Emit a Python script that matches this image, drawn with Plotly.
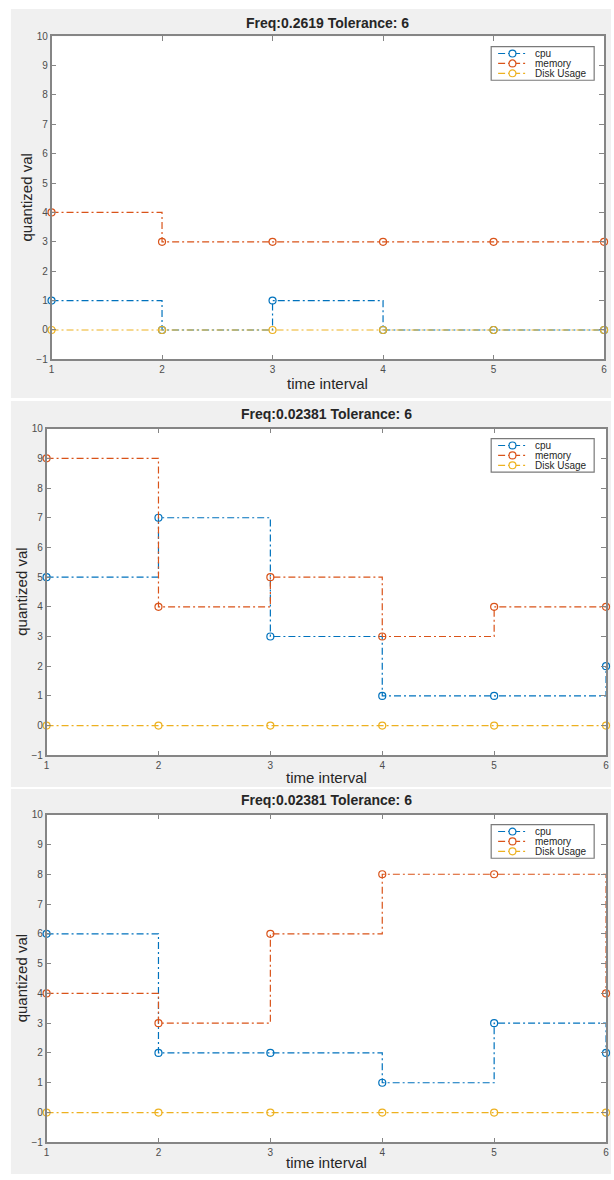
import plotly.graph_objects as go

# ---- data -------------------------------------------------------------
time_interval = [1, 2, 3, 4, 5, 6]

titles = ["Freq:0.2619 Tolerance: 6",
          "Freq:0.02381 Tolerance: 6",
          "Freq:0.02381 Tolerance: 6"]

cpu_1 = [1, 0, 1, 0, 0, 0]
memory_1 = [4, 3, 3, 3, 3, 3]
disk_1 = [0, 0, 0, 0, 0, 0]

cpu_2 = [5, 7, 3, 1, 1, 2]
memory_2 = [9, 4, 5, 3, 4, 4]
disk_2 = [0, 0, 0, 0, 0, 0]

cpu_3 = [6, 2, 2, 1, 3, 2]
memory_3 = [4, 3, 6, 8, 8, 4]
disk_3 = [0, 0, 0, 0, 0, 0]

series_names = ["cpu", "memory", "Disk Usage"]
y_ticks = [-1, 0, 1, 2, 3, 4, 5, 6, 7, 8, 9, 10]

# ---- styling ----------------------------------------------------------
W, H = 614, 1180
COLORS = ["#0072BD", "#D95319", "#EDB120"]
DASH = "7px,3px,2px,3px"
PANEL_BG = "#f0f0f0"
AXIS_COLOR = "#858585"
TEXT_COLOR = "#262626"
TICK_COLOR = "#4d4d4d"
FONT = "Liberation Sans, Arial, sans-serif"


def px(x):
    return x / W


def py(y):
    return 1 - y / H


# pixel layout of each panel: gray panel box, axes box, label positions
panels = [
    dict(bg=(8, 3, 614, 396), ax=(49, 30.5, 607, 357),
         title_y=17, xlabel_y=381, ylabel_x=24, legend_top=41),
    dict(bg=(8, 399, 614, 789), ax=(44, 427, 609, 757),
         title_y=412, xlabel_y=779, ylabel_x=19, legend_top=437),
    dict(bg=(8, 791, 614, 1180), ax=(44, 817, 609, 1148),
         title_y=802, xlabel_y=1168, ylabel_x=19, legend_top=827),
]

panel_data = [
    (cpu_1, memory_1, disk_1),
    (cpu_2, memory_2, disk_2),
    (cpu_3, memory_3, disk_3),
]

fig = go.Figure()
shapes = []
annotations = []
layout_axes = {}

for i, (p, data) in enumerate(zip(panels, panel_data)):
    n = i + 1
    xname = "x" if n == 1 else f"x{n}"
    yname = "y" if n == 1 else f"y{n}"
    xkey = "xaxis" if n == 1 else f"xaxis{n}"
    ykey = "yaxis" if n == 1 else f"yaxis{n}"

    x0, y0, x1, y1 = p["ax"]
    bx0, by0, bx1, by1 = p["bg"]

    # gray figure background, then white axes area
    shapes.append(dict(type="rect", xref="paper", yref="paper",
                       x0=px(bx0), x1=px(bx1), y0=py(by1), y1=py(by0),
                       fillcolor=PANEL_BG, line=dict(width=0), layer="below"))
    shapes.append(dict(type="rect", xref="paper", yref="paper",
                       x0=px(x0), x1=px(x1), y0=py(y1), y1=py(y0),
                       fillcolor="white", line=dict(width=0), layer="below"))

    # stair-step series
    for name, vals, color in zip(series_names, data, COLORS):
        fig.add_trace(go.Scatter(
            x=time_interval, y=vals, name=name, xaxis=xname, yaxis=yname,
            mode="lines+markers", line=dict(shape="hv", color=color,
                                             width=1.2, dash=DASH),
            marker=dict(symbol="circle-open", size=7, color=color,
                        line=dict(width=1.2, color=color)),
            cliponaxis=False, showlegend=False))

    common = dict(showline=True, linecolor=AXIS_COLOR, linewidth=1.5,
                  mirror="ticks", ticks="inside", ticklen=5, tickwidth=1,
                  tickcolor=AXIS_COLOR, showgrid=False, zeroline=False,
                  tickfont=dict(family=FONT, size=10, color=TICK_COLOR))
    layout_axes[xkey] = dict(common, domain=[px(x0), px(x1)],
                             range=[1, 6], tickvals=time_interval,
                             anchor=yname)
    layout_axes[ykey] = dict(common, domain=[py(y1), py(y0)],
                             range=[-1, 10], tickvals=y_ticks,
                             anchor=xname)

    cx = (x0 + x1) / 2
    annotations.append(dict(text=f"<b>{titles[i]}</b>", xref="paper",
                            yref="paper", x=px(cx), y=py(p["title_y"]),
                            showarrow=False, xanchor="center",
                            yanchor="middle",
                            font=dict(family=FONT, size=14,
                                      color=TEXT_COLOR)))
    annotations.append(dict(text="time interval", xref="paper",
                            yref="paper", x=px(cx), y=py(p["xlabel_y"]),
                            showarrow=False, xanchor="center",
                            yanchor="middle",
                            font=dict(family=FONT, size=15,
                                      color=TEXT_COLOR)))
    annotations.append(dict(text="quantized val", xref="paper",
                            yref="paper", x=px(p["ylabel_x"]),
                            y=py((y0 + y1) / 2), textangle=-90,
                            showarrow=False, xanchor="center",
                            yanchor="middle",
                            font=dict(family=FONT, size=15,
                                      color=TEXT_COLOR)))

    # legend box in the upper-right corner of the axes
    lt = p["legend_top"]
    lx0, lx1 = 493, 597
    shapes.append(dict(type="rect", xref="paper", yref="paper",
                       x0=px(lx0), x1=px(lx1), y0=py(lt + 34), y1=py(lt),
                       fillcolor="white",
                       line=dict(color="#7a7a7a", width=1.2)))
    for k, (name, color) in enumerate(zip(series_names, COLORS)):
        ey = lt + 7 + k * 10
        shapes.append(dict(type="line", xref="paper", yref="paper",
                           x0=px(500), x1=px(529), y0=py(ey), y1=py(ey),
                           line=dict(color=color, width=1.2, dash=DASH)))
        shapes.append(dict(type="circle", xref="paper", yref="paper",
                           x0=px(511), x1=px(518), y0=py(ey + 3.5),
                           y1=py(ey - 3.5), fillcolor="white",
                           line=dict(color=color, width=1.2)))
        annotations.append(dict(text=name, xref="paper", yref="paper",
                                x=px(535), y=py(ey), showarrow=False,
                                xanchor="left", yanchor="middle",
                                font=dict(family=FONT, size=10,
                                          color=TEXT_COLOR)))

fig.update_layout(
    width=W, height=H, margin=dict(l=0, r=0, t=0, b=0),
    paper_bgcolor="white", plot_bgcolor="rgba(0,0,0,0)",
    showlegend=False, shapes=shapes, annotations=annotations,
    **layout_axes)

fig.write_html("out.html")
